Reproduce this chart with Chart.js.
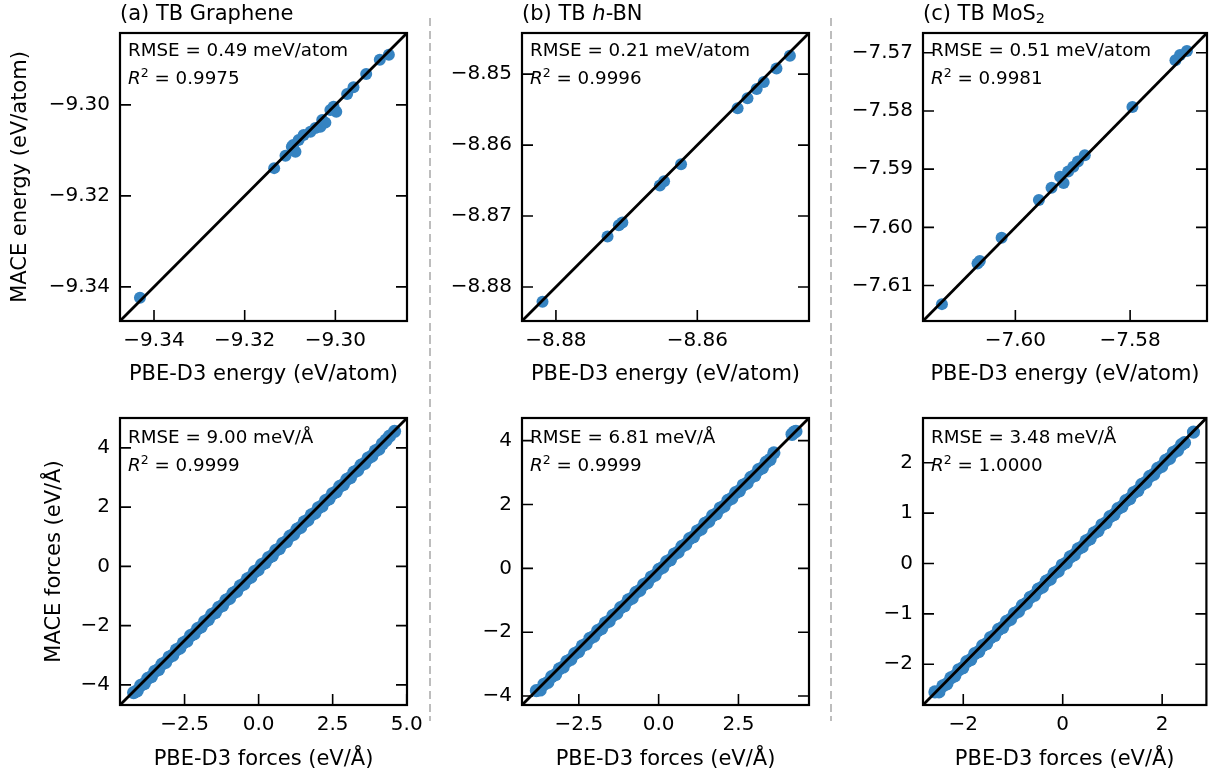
<!DOCTYPE html>
<html>
<head>
<meta charset="utf-8">
<script src="https://cdn.jsdelivr.net/npm/chart.js@4.4.1/dist/chart.umd.min.js"></script>
<style>
html, body { margin: 0; padding: 0; background: #fff; overflow: hidden; }
#fig { position: relative; width: 1214px; height: 773px; font-family: 'DejaVu Sans', sans-serif; color: #000; }
#fig canvas { position: absolute; }
.ttl { position: absolute; font-size: 21px; line-height: 25px; white-space: nowrap; z-index: 2; }
.note { position: absolute; font-size: 18.3px; line-height: 28px; white-space: nowrap; z-index: 2; }
.sep { position: absolute; width: 2px; top: 18px; height: 703px;
  background: repeating-linear-gradient(to bottom, #bdbdbd 0px, #bdbdbd 8px, transparent 8px, transparent 12.7px); }
.sup { font-size: 12.5px; position: relative; top: -7px; }
.sub { font-size: 14.5px; position: relative; top: 3px; }
</style>
</head>
<body>
<div id="fig">
  <div class="sep" style="left:429px"></div>
  <div class="sep" style="left:830px"></div>

  <div class="ttl" style="left:120px;top:1px">(a) TB Graphene</div>
  <div class="ttl" style="left:522px;top:1px">(b) TB <i>h</i>-BN</div>
  <div class="ttl" style="left:923px;top:1px">(c) TB MoS<span class="sub">2</span></div>

  <div class="note" style="left:128px;top:36px">RMSE = 0.49 meV/atom<br><i>R</i><span class="sup">2</span> = 0.9975</div>
  <div class="note" style="left:530px;top:36px">RMSE = 0.21 meV/atom<br><i>R</i><span class="sup">2</span> = 0.9996</div>
  <div class="note" style="left:931px;top:36px">RMSE = 0.51 meV/atom<br><i>R</i><span class="sup">2</span> = 0.9981</div>

  <div class="note" style="left:128px;top:423px">RMSE = 9.00 meV/Å<br><i>R</i><span class="sup">2</span> = 0.9999</div>
  <div class="note" style="left:530px;top:423px">RMSE = 6.81 meV/Å<br><i>R</i><span class="sup">2</span> = 0.9999</div>
  <div class="note" style="left:931px;top:423px">RMSE = 3.48 meV/Å<br><i>R</i><span class="sup">2</span> = 1.0000</div>
</div>
<script>
// energies (eV/atom): PBE-D3 reference vs MACE prediction
const grapheneEnergyPbe  = [-9.3431, -9.3135, -9.3110, -9.3096, -9.3093, -9.3088, -9.3081, -9.3070, -9.3055, -9.3044, -9.3033, -9.3029, -9.3022, -9.3011, -9.3004, -9.2998, -9.2974, -9.2960, -9.2932, -9.2902, -9.2882];
const grapheneEnergyMace = [-9.3424, -9.3139, -9.3112, -9.3092, -9.3088, -9.3103, -9.3077, -9.3066, -9.3059, -9.3051, -9.3048, -9.3033, -9.3039, -9.3011, -9.3004, -9.3015, -9.2976, -9.2961, -9.2932, -9.2901, -9.2890];

const hbnEnergyPbe  = [-8.8819, -8.8727, -8.8711, -8.8706, -8.8653, -8.8647, -8.8623, -8.8543, -8.8529, -8.8516, -8.8506, -8.8488, -8.8469];
const hbnEnergyMace = [-8.8821, -8.8729, -8.8713, -8.8709, -8.8657, -8.8651, -8.8627, -8.8548, -8.8534, -8.8521, -8.8511, -8.8492, -8.8474];

const mos2EnergyPbe  = [-7.6128, -7.6066, -7.6062, -7.6024, -7.5959, -7.5937, -7.5922, -7.5916, -7.5908, -7.5899, -7.5891, -7.5879, -7.5796, -7.5721, -7.5713, -7.5701];
const mos2EnergyMace = [-7.6132, -7.6062, -7.6058, -7.6018, -7.5953, -7.5932, -7.5913, -7.5924, -7.5904, -7.5896, -7.5887, -7.5876, -7.5793, -7.5713, -7.5704, -7.5697];

// force components (eV/A), sampled along the dense band
const grapheneForcePbe  = [-4.22, -4.10, -3.98, -3.86, -3.74, -3.62, -3.50, -3.38, -3.26, -3.14, -3.02, -2.90, -2.78, -2.66, -2.54, -2.42, -2.30, -2.18, -2.06, -1.94, -1.82, -1.70, -1.58, -1.46, -1.34, -1.22, -1.10, -0.98, -0.86, -0.74, -0.62, -0.50, -0.38, -0.26, -0.14, -0.02, 0.10, 0.22, 0.34, 0.46, 0.58, 0.70, 0.82, 0.94, 1.06, 1.18, 1.30, 1.42, 1.54, 1.66, 1.78, 1.90, 2.02, 2.14, 2.26, 2.38, 2.50, 2.62, 2.74, 2.86, 2.98, 3.10, 3.22, 3.34, 3.46, 3.58, 3.70, 3.82, 3.94, 4.06, 4.18, 4.30, 4.42, 4.59];
const grapheneForceMace = [-4.26, -4.20, -4.02, -3.96, -3.78, -3.72, -3.54, -3.48, -3.30, -3.24, -3.06, -3.00, -2.82, -2.76, -2.58, -2.52, -2.34, -2.28, -2.10, -2.04, -1.86, -1.80, -1.62, -1.56, -1.38, -1.32, -1.14, -1.08, -0.90, -0.84, -0.66, -0.60, -0.42, -0.36, -0.18, -0.12, 0.06, 0.12, 0.30, 0.36, 0.54, 0.60, 0.78, 0.84, 1.02, 1.08, 1.26, 1.32, 1.50, 1.56, 1.74, 1.80, 1.98, 2.04, 2.22, 2.28, 2.46, 2.52, 2.70, 2.76, 2.94, 3.00, 3.18, 3.24, 3.42, 3.48, 3.66, 3.72, 3.90, 3.96, 4.14, 4.26, 4.40, 4.56];

const hbnForcePbe  = [-3.83, -3.71, -3.59, -3.47, -3.35, -3.23, -3.11, -2.99, -2.87, -2.75, -2.63, -2.51, -2.39, -2.27, -2.15, -2.03, -1.91, -1.79, -1.67, -1.55, -1.43, -1.31, -1.19, -1.07, -0.95, -0.83, -0.71, -0.59, -0.47, -0.35, -0.23, -0.11, 0.01, 0.13, 0.25, 0.37, 0.49, 0.61, 0.73, 0.85, 0.97, 1.09, 1.21, 1.33, 1.45, 1.57, 1.69, 1.81, 1.93, 2.05, 2.17, 2.29, 2.41, 2.53, 2.65, 2.77, 2.89, 3.01, 3.13, 3.25, 3.37, 3.49, 3.61, 4.18, 4.24, 4.30];
const hbnForceMace = [-3.83, -3.81, -3.63, -3.57, -3.39, -3.33, -3.15, -3.09, -2.91, -2.85, -2.67, -2.61, -2.43, -2.37, -2.19, -2.13, -1.95, -1.89, -1.71, -1.65, -1.47, -1.41, -1.23, -1.17, -0.99, -0.93, -0.75, -0.69, -0.51, -0.45, -0.27, -0.21, -0.03, 0.03, 0.21, 0.27, 0.45, 0.51, 0.69, 0.75, 0.93, 0.99, 1.17, 1.23, 1.41, 1.47, 1.65, 1.71, 1.89, 1.95, 2.13, 2.19, 2.37, 2.43, 2.61, 2.67, 2.85, 2.91, 3.09, 3.15, 3.33, 3.41, 3.62, 4.20, 4.27, 4.29];

const mos2ForcePbe  = [-2.57, -2.49, -2.41, -2.33, -2.25, -2.17, -2.09, -2.01, -1.93, -1.85, -1.77, -1.69, -1.61, -1.53, -1.45, -1.37, -1.29, -1.21, -1.13, -1.05, -0.97, -0.89, -0.81, -0.73, -0.65, -0.57, -0.49, -0.41, -0.33, -0.25, -0.17, -0.09, -0.01, 0.07, 0.15, 0.23, 0.31, 0.39, 0.47, 0.55, 0.63, 0.71, 0.79, 0.87, 0.95, 1.03, 1.11, 1.19, 1.27, 1.35, 1.43, 1.51, 1.59, 1.67, 1.75, 1.83, 1.91, 1.99, 2.07, 2.15, 2.23, 2.31, 2.39, 2.45, 2.63];
const mos2ForceMace = [-2.55, -2.55, -2.43, -2.39, -2.27, -2.23, -2.11, -2.07, -1.95, -1.91, -1.79, -1.75, -1.63, -1.59, -1.47, -1.43, -1.31, -1.27, -1.15, -1.11, -0.99, -0.95, -0.83, -0.79, -0.67, -0.63, -0.51, -0.47, -0.35, -0.31, -0.19, -0.15, -0.03, 0.01, 0.13, 0.17, 0.29, 0.33, 0.45, 0.49, 0.61, 0.65, 0.77, 0.81, 0.93, 0.97, 1.09, 1.13, 1.25, 1.29, 1.41, 1.45, 1.57, 1.61, 1.73, 1.77, 1.89, 1.93, 2.05, 2.09, 2.21, 2.25, 2.36, 2.40, 2.61];

// axis ranges and tick values
const grapheneEnergyRange = [-9.3475, -9.2842];
const hbnEnergyRange      = [-8.8848, -8.8442];
const mos2EnergyRange     = [-7.6161, -7.5666];
const grapheneForceRange  = [-4.68, 5.01];
const hbnForceRange       = [-4.28, 4.71];
const mos2ForceRange      = [-2.81, 2.89];

const grapheneEnergyTicksX = [-9.34, -9.32, -9.30];
const grapheneEnergyTicksY = [-9.34, -9.32, -9.30];
const hbnEnergyTicksX = [-8.88, -8.86];
const hbnEnergyTicksY = [-8.88, -8.87, -8.86, -8.85];
const mos2EnergyTicksX = [-7.60, -7.58];
const mos2EnergyTicksY = [-7.61, -7.60, -7.59, -7.58, -7.57];
const grapheneForceTicksX = [-2.5, 0, 2.5, 5.0];
const hbnForceTicksX = [-2.5, 0, 2.5];
const mos2ForceTicksX = [-2, 0, 2];
const bigForceTicksY = [-4, -2, 0, 2, 4];
const mos2ForceTicksY = [-2, -1, 0, 1, 2];

Chart.defaults.font.family = "'DejaVu Sans', sans-serif";
Chart.defaults.color = '#000';

const blue = '#3583c1';

function fmt(v, d) {
  const s = Math.abs(v).toFixed(d);
  return (v < -1e-9 ? '\u2212' : '') + s;
}

// box around the axes and inward ticks on left, right and bottom
const frameTicks = {
  id: 'frameTicks',
  afterDraw(chart) {
    const { ctx, chartArea: a, scales: { x, y } } = chart;
    ctx.save();
    ctx.strokeStyle = '#000';
    ctx.lineWidth = 1.6;
    ctx.beginPath();
    x.ticks.forEach(t => {
      const px = x.getPixelForValue(t.value);
      ctx.moveTo(px, a.bottom); ctx.lineTo(px, a.bottom - 11);
    });
    y.ticks.forEach(t => {
      const py = y.getPixelForValue(t.value);
      ctx.moveTo(a.left, py); ctx.lineTo(a.left + 11, py);
      ctx.moveTo(a.right, py); ctx.lineTo(a.right - 11, py);
    });
    ctx.stroke();
    ctx.lineWidth = 2.2;
    ctx.strokeRect(a.left, a.top, a.right - a.left, a.bottom - a.top);
    ctx.restore();
  }
};

function makePanel(p) {
  const cv = document.createElement('canvas');
  const w = 120 + 287 + p.padRight, h = 12 + p.boxH + 70;
  cv.width = w; cv.height = h;
  cv.style.width = w + 'px'; cv.style.height = h + 'px';
  cv.style.left = (p.boxLeft - 120) + 'px';
  cv.style.top = (p.boxTop - 12) + 'px';
  document.getElementById('fig').appendChild(cv);

  const [lo, hi] = p.range;
  new Chart(cv, {
    type: 'scatter',
    data: {
      datasets: [
        {
          data: [{ x: lo, y: lo }, { x: hi, y: hi }],
          showLine: true, borderColor: '#000', borderWidth: 2.8,
          pointRadius: 0, order: 0
        },
        {
          data: p.xs.map((x, i) => ({ x: x, y: p.ys[i] })),
          backgroundColor: blue, borderWidth: 0, pointRadius: p.radius, order: 1
        }
      ]
    },
    options: {
      responsive: false,
      animation: false,
      devicePixelRatio: 1,
      events: [],
      layout: { padding: { left: 0, top: 12, right: p.padRight, bottom: 0 } },
      plugins: { legend: { display: false }, tooltip: { enabled: false } },
      scales: {
        x: {
          type: 'linear', position: 'bottom', min: lo, max: hi,
          afterBuildTicks: s => { s.ticks = p.xTicks.map(v => ({ value: v })); },
          afterFit: s => { s.height = 70; s.paddingLeft = 0; s.paddingRight = 0; },
          grid: { display: false, drawTicks: false },
          border: { display: false },
          ticks: { autoSkip: false, maxRotation: 0, padding: 8, font: { size: 20 },
                   callback: v => fmt(v, p.xDec) },
          title: { display: true, text: p.xTitle, font: { size: 21 },
                   padding: { top: 0, bottom: p.xTitlePad } }
        },
        y: {
          type: 'linear', position: 'left', min: lo, max: hi,
          afterBuildTicks: s => { s.ticks = p.yTicks.map(v => ({ value: v })); },
          afterFit: s => { s.width = 120; s.paddingTop = 0; s.paddingBottom = 0; },
          grid: { display: false, drawTicks: false },
          border: { display: false },
          ticks: { autoSkip: false, padding: 10, font: { size: 20 },
                   callback: v => fmt(v, p.yDec) },
          title: { display: !!p.yTitle, text: p.yTitle || '', font: { size: 21 },
                   padding: { top: p.yTitlePad || 0, bottom: 0 } }
        }
      }
    },
    plugins: [frameTicks]
  });
}

const energyTitle = 'PBE-D3 energy (eV/atom)';
const forceTitle = 'PBE-D3 forces (eV/Å)';

makePanel({ boxLeft: 120, boxTop: 33, boxH: 288, padRight: 20, range: grapheneEnergyRange, radius: 6,
  xs: grapheneEnergyPbe, ys: grapheneEnergyMace, xTicks: grapheneEnergyTicksX, yTicks: grapheneEnergyTicksY,
  xDec: 2, yDec: 2, xTitle: energyTitle, xTitlePad: 4, yTitle: 'MACE energy (eV/atom)', yTitlePad: 8 });
makePanel({ boxLeft: 522, boxTop: 33, boxH: 288, padRight: 20, range: hbnEnergyRange, radius: 6,
  xs: hbnEnergyPbe, ys: hbnEnergyMace, xTicks: hbnEnergyTicksX, yTicks: hbnEnergyTicksY,
  xDec: 2, yDec: 2, xTitle: energyTitle, xTitlePad: 4 });
makePanel({ boxLeft: 923, boxTop: 33, boxH: 288, padRight: 3, range: mos2EnergyRange, radius: 6,
  xs: mos2EnergyPbe, ys: mos2EnergyMace, xTicks: mos2EnergyTicksX, yTicks: mos2EnergyTicksY,
  xDec: 2, yDec: 2, xTitle: energyTitle, xTitlePad: 4 });

makePanel({ boxLeft: 120, boxTop: 418, boxH: 287, padRight: 20, range: grapheneForceRange, radius: 6.6,
  xs: grapheneForcePbe, ys: grapheneForceMace, xTicks: grapheneForceTicksX, yTicks: bigForceTicksY,
  xDec: 1, yDec: 0, xTitle: forceTitle, xTitlePad: 3, yTitle: 'MACE forces (eV/Å)', yTitlePad: 42 });
makePanel({ boxLeft: 522, boxTop: 418, boxH: 287, padRight: 20, range: hbnForceRange, radius: 6.6,
  xs: hbnForcePbe, ys: hbnForceMace, xTicks: hbnForceTicksX, yTicks: bigForceTicksY,
  xDec: 1, yDec: 0, xTitle: forceTitle, xTitlePad: 3 });
makePanel({ boxLeft: 923, boxTop: 418, boxH: 287, padRight: 3, range: mos2ForceRange, radius: 6.6,
  xs: mos2ForcePbe, ys: mos2ForceMace, xTicks: mos2ForceTicksX, yTicks: mos2ForceTicksY,
  xDec: 0, yDec: 0, xTitle: forceTitle, xTitlePad: 3 });
</script>
</body>
</html>
